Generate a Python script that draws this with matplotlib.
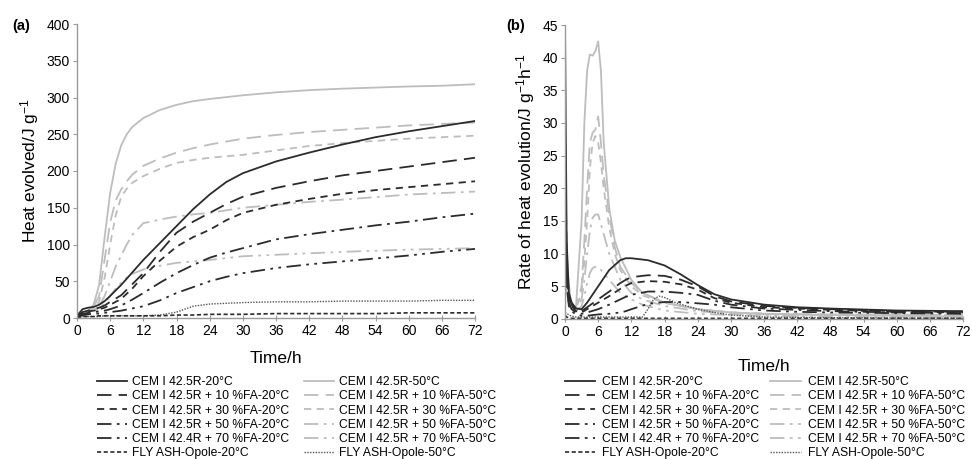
import matplotlib
matplotlib.use("Agg")
import matplotlib.pyplot as plt

plt.rcParams['font.family'] = ['Liberation Sans', 'DejaVu Sans']
plt.rcParams['mathtext.default'] = 'regular'

labels_20 = ["CEM I 42.5R-20°C", "CEM I 42.5R + 10 %FA-20°C", "CEM I 42.5R + 30 %FA-20°C",
             "CEM I 42.5R + 50 %FA-20°C", "CEM I 42.4R + 70 %FA-20°C", "FLY ASH-Opole-20°C"]
labels_50 = ["CEM I 42.5R-50°C", "CEM I 42.5R + 10 %FA-50°C", "CEM I 42.5R + 30 %FA-50°C",
             "CEM I 42.5R + 50 %FA-50°C", "CEM I 42.5R + 70 %FA-50°C", "FLY ASH-Opole-50°C"]

# ---------- Panel (a): heat evolved ----------
ta_20 = [0, 1, 2, 3, 4, 5, 6, 8, 10, 12, 15, 18, 21, 24, 27, 30, 36, 42, 48, 54, 60, 66, 72]
qa_cem20 = [3, 12, 14, 15, 18, 23, 30, 45, 62, 79, 102, 125, 148, 168, 185, 197, 213, 225, 236, 246, 254, 261, 268]
qa_fa10_20 = [2, 8, 10, 12, 14, 17, 22, 31, 46, 61, 90, 116, 131, 143, 155, 165, 177, 186, 194, 200, 206, 212, 218]
qa_fa30_20 = [2, 7, 9, 10, 12, 14, 18, 26, 40, 57, 78, 97, 110, 120, 133, 143, 154, 162, 169, 174, 178, 182, 186]
qa_fa50_20 = [1, 5, 7, 8, 9, 10, 12, 17, 25, 34, 48, 61, 72, 82, 89, 95, 107, 114, 120, 126, 131, 137, 142]
qa_fa70_20 = [1, 4, 5, 6, 6, 7, 8, 10, 13, 16, 24, 34, 42, 50, 56, 61, 68, 73, 77, 81, 85, 90, 94]
qa_fly20 = [1, 2, 2, 2, 3, 3, 3, 3, 3, 3, 3, 4, 4, 5, 5, 5, 6, 6, 6, 6, 7, 7, 7]

ta_50 = [0, 1, 2, 3, 4, 5, 6, 7, 8, 9, 10, 12, 15, 18, 21, 24, 30, 36, 42, 48, 60, 66, 72]
qa_cem50 = [0, 6, 10, 18, 45, 110, 170, 210, 235, 250, 260, 272, 283, 290, 295, 298, 303, 307, 310, 312, 315, 316, 318]
qa_fa10_50 = [0, 5, 9, 15, 30, 80, 130, 160, 175, 186, 195, 207, 217, 225, 231, 236, 244, 249, 253, 256, 262, 264, 266]
qa_fa30_50 = [0, 5, 8, 14, 22, 55, 100, 140, 165, 176, 184, 193, 203, 211, 215, 218, 222, 228, 234, 238, 244, 246, 248]
qa_fa50_50 = [0, 4, 7, 11, 15, 30, 50, 70, 85, 100, 113, 129, 134, 138, 141, 143, 150, 154, 158, 161, 168, 170, 172]
qa_fa70_50 = [0, 3, 6, 9, 12, 20, 30, 40, 48, 55, 60, 66, 71, 75, 77, 79, 84, 86, 88, 90, 93, 94, 95]
qa_fly50 = [1, 2, 2, 2, 2, 3, 3, 3, 3, 3, 3, 3, 4, 8, 16, 19, 21, 22, 22, 23, 23, 24, 24]

# ---------- Panel (b): rate of heat evolution ----------
tb_20 = [0, 0.3, 0.7, 1.2, 2, 3, 4, 6, 8, 10, 11, 12, 15, 18, 21, 24, 27, 30, 36, 42, 48, 60, 72]
rb_cem20 = [45, 12, 4, 2.5, 1.6, 1.5, 2.5, 5, 7.5, 9, 9.3, 9.3, 9, 8.2, 6.8, 5.2, 3.8, 3, 2.2, 1.8, 1.6, 1.3, 1.2]
rb_fa10_20 = [30, 9, 3.5, 2.2, 1.4, 1.2, 1.8, 3, 4.2, 5.5, 6, 6.4, 6.7, 6.6, 6, 5, 3.5, 2.7, 2, 1.7, 1.5, 1.2, 1.1]
rb_fa30_20 = [25, 8, 3, 2, 1.2, 1, 1.5, 2.5, 3.5, 4.6, 5.1, 5.5, 5.8, 5.7, 5.3, 4.5, 3.2, 2.5, 1.8, 1.6, 1.4, 1.1, 1.0]
rb_fa50_20 = [20, 6, 2.5, 1.5, 1, 0.8, 1.0, 1.5, 2.2, 3.0, 3.4, 3.7, 4.2, 4.2, 4.0, 3.7, 2.8, 2.2, 1.6, 1.4, 1.2, 1.0, 0.9]
rb_fa70_20 = [15, 5, 2, 1.2, 0.7, 0.5, 0.5, 0.7, 0.8, 1.0, 1.2, 1.5, 2.3, 2.6, 2.6, 2.4, 2.2, 1.8, 1.3, 1.1, 1.0, 0.9, 0.8]
rb_fly20 = [0.6, 0.3, 0.2, 0.1, 0.1, 0.1, 0.1, 0.1, 0.1, 0.1, 0.1, 0.1, 0.1, 0.1, 0.1, 0.1, 0.1, 0.1, 0.1, 0.1, 0.1, 0.1, 0.1]

tb_50 = [0, 0.5, 1, 1.5, 2, 3, 3.5, 4, 4.5, 5, 5.5, 6, 6.5, 7, 8, 9, 10, 12, 14, 18, 24, 30, 36, 48, 72]
rb_cem50 = [17, 7, 3, 2, 2, 15, 30, 38, 40.5, 40.3, 41, 42.5, 38, 27, 17, 12, 9.5, 6, 4, 2.5, 1.5, 1.0, 0.8, 0.6, 0.4]
rb_fa10_50 = [12, 5, 2.5, 1.8, 1.8, 5, 12, 20, 27, 28.5, 29, 31, 27, 22, 16, 11, 8, 5.5, 4, 2.5, 1.5, 1.0, 0.8, 0.7, 0.6]
rb_fa30_50 = [10, 4, 2.2, 1.6, 1.6, 4, 9, 15, 23, 27, 28, 27, 24, 20, 14, 10, 7.5, 5, 3.6, 2.5, 1.5, 1.0, 0.8, 0.7, 0.6]
rb_fa50_50 = [8, 3.5, 2, 1.4, 1.4, 3, 6, 10, 13.5, 15.5, 16, 16, 14.5, 13, 10, 8, 6, 4, 3, 2, 1.2, 0.8, 0.7, 0.6, 0.5]
rb_fa70_50 = [6, 3, 1.8, 1.2, 1.2, 2, 3.5, 5.5, 7, 7.8, 8, 8, 7.5, 7, 6, 5, 4, 3, 2.2, 1.3, 0.8, 0.6, 0.5, 0.4, 0.3]

tb_fly50 = [0, 1, 2, 6, 10, 14, 15, 16, 17, 18, 20, 22, 24, 27, 30, 36, 48, 72]
rb_fly50 = [1.0, 0.5, 0.3, 0.3, 0.3, 0.3, 1.5, 3.0, 3.5, 3.3, 2.5, 2.0, 1.5, 1.0, 0.6, 0.3, 0.2, 0.1]

# ---------- styles ----------
c20 = '#2b2b2b'
c50 = '#bdbdbd'
styles = ['-', (0, (8, 4)), (0, (4, 3)), (0, (8, 3, 1.5, 3)), (0, (8, 3, 1.5, 3, 1.5, 3)), (0, (2.5, 1.5))]
fly50_style = (0, (1, 1))
axis_c = '#9a9a9a'

fig = plt.figure(figsize=(9.72, 4.59), dpi=100)
axa = fig.add_axes([77 / 972, 1 - 318 / 459, 398 / 972, 294 / 459])
axb = fig.add_axes([565 / 972, 1 - 319 / 459, 398 / 972, 294 / 459])

a20 = [qa_cem20, qa_fa10_20, qa_fa30_20, qa_fa50_20, qa_fa70_20, qa_fly20]
a50 = [qa_cem50, qa_fa10_50, qa_fa30_50, qa_fa50_50, qa_fa70_50]
b20 = [rb_cem20, rb_fa10_20, rb_fa30_20, rb_fa50_20, rb_fa70_20, rb_fly20]
b50 = [rb_cem50, rb_fa10_50, rb_fa30_50, rb_fa50_50, rb_fa70_50]


def draw(ax, t20, s20, t50, s50, tfly50, fly50):
    h20, h50 = [], []
    for i, y in enumerate(s50):
        l, = ax.plot(t50, y, color=c50, lw=1.3, ls=styles[i])
        h50.append(l)
    l, = ax.plot(tfly50, fly50, color='#555555', lw=1.0, ls=fly50_style)
    h50.append(l)
    for i, y in enumerate(s20):
        l, = ax.plot(t20, y, color=c20, lw=1.3 if i < 5 else 1.2, ls=styles[i])
        h20.append(l)
    return h20 + h50


def style_axes(ax, ymax, ystep, xlpad):
    ax.set_xlim(0, 72)
    ax.set_ylim(0, ymax)
    ax.set_xticks(range(0, 73, 6))
    ax.set_yticks(range(0, ymax + 1, ystep))
    for s in ['top', 'right']:
        ax.spines[s].set_visible(False)
    for s in ['left', 'bottom']:
        ax.spines[s].set_color(axis_c)
        ax.spines[s].set_linewidth(1.0)
    ax.tick_params(axis='x', direction='inout', length=5, color=axis_c, labelsize=10, pad=2)
    ax.tick_params(axis='y', direction='out', length=3, color=axis_c, labelsize=10, pad=2)
    ax.set_xlabel('Time/h', fontsize=12.5, labelpad=xlpad)


ha = draw(axa, ta_20, a20, ta_50, a50, ta_50, qa_fly50)
hb = draw(axb, tb_20, b20, tb_50, b50, tb_fly50, rb_fly50)
style_axes(axa, 400, 50, 9)
style_axes(axb, 45, 5, 14)
axa.set_ylabel('Heat evolved/J g$^{-1}$', fontsize=12.5, labelpad=4)
axb.set_ylabel('Rate of heat evolution/J g$^{-1}$h$^{-1}$', fontsize=12.5, labelpad=4)
fig.text(12 / 972, 1 - 26 / 459, '(a)', fontsize=10.5, fontweight='bold', va='center')
fig.text(506 / 972, 1 - 26 / 459, '(b)', fontsize=10.5, fontweight='bold', va='center')

labels = labels_20 + labels_50
for ax, h, x0, y0, cs, tp in [(axa, ha, 97, 376, 1.2, 0.4), (axb, hb, 565, 376, 0.9, 0.6)]:
    fig.legend(h, labels, ncol=2, loc='upper left',
               bbox_to_anchor=(x0 / 972, 1 - y0 / 459), frameon=False,
               fontsize=8.7, labelspacing=0.19, handlelength=2.5, handletextpad=tp,
               columnspacing=cs, borderpad=0, borderaxespad=0)

fig.savefig('out.png', dpi=100)
